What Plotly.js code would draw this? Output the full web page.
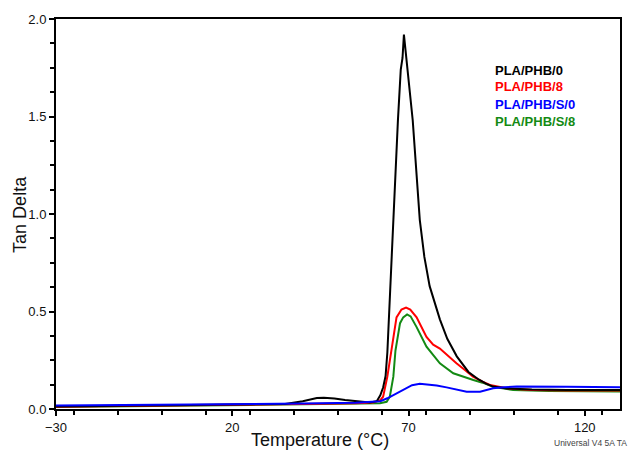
<!DOCTYPE html>
<html>
<head>
<meta charset="utf-8">
<script src="https://cdn.plot.ly/plotly-3.0.1.min.js"></script>
<style>html,body{margin:0;padding:0;background:#fff;}#chart{width:631px;height:455px;}</style>
</head>
<body>
<div id="chart"></div>
<script>
var seriesNames = ["PLA/PHB/0", "PLA/PHB/8", "PLA/PHB/S/0", "PLA/PHB/S/8"];
var seriesColors = ["#000000", "#ff0000", "#0000ff", "#138a13"];

var blackX = [-30,-10,10,25,35,40,44,46,49,52,56,59,61,62,62.8,63.5,64,65.6,67,67.8,68.3,68.7,69.1,69.8,71.2,73.2,74.5,76,78.9,81,83.7,87,90,92,94,98,105,115,130];
var blackY = [0.013,0.016,0.019,0.022,0.026,0.04,0.056,0.058,0.054,0.046,0.037,0.033,0.04,0.07,0.11,0.17,0.29,0.97,1.48,1.74,1.80,1.92,1.85,1.74,1.48,0.97,0.78,0.63,0.46,0.36,0.27,0.19,0.15,0.13,0.115,0.105,0.1,0.097,0.097];

var redX = [-30,-10,10,25,40,55,60,62,62.8,64,65.2,66.6,68,69.3,70.5,72.3,75.1,77,78.9,81,83.6,86,88.3,91,93.1,97.8,105,115,130];
var redY = [0.012,0.015,0.018,0.022,0.026,0.03,0.033,0.045,0.063,0.166,0.30,0.47,0.51,0.52,0.51,0.47,0.37,0.33,0.31,0.275,0.235,0.2,0.166,0.14,0.123,0.106,0.098,0.095,0.095];

var blueX = [-30,-10,10,25,40,55,60,62,64,65.7,67,69.5,71,73.2,75.1,78,80.8,84,86.5,90.3,92,94,97,100.7,115,130];
var blueY = [0.018,0.02,0.022,0.025,0.028,0.032,0.037,0.04,0.055,0.072,0.085,0.106,0.122,0.13,0.127,0.12,0.111,0.098,0.089,0.089,0.097,0.106,0.112,0.115,0.114,0.111];

var greenX = [-30,-10,10,25,40,55,61.9,63.8,64.7,65.7,66.3,67.6,68.5,69.6,70.6,72.3,75.1,78.9,82.7,88.4,91,94,99.7,110,130];
var greenY = [0.01,0.013,0.017,0.021,0.025,0.028,0.03,0.037,0.063,0.166,0.30,0.44,0.47,0.485,0.475,0.42,0.32,0.234,0.183,0.149,0.135,0.114,0.097,0.092,0.09];

var xTickStart = -30, xTickStep = 50, xMinorStep = 12.5;
var yTickStart = 0, yTickStep = 0.5, yMinorStep = 0.125;
var xRange = [-30, 130], yRange = [0, 2.0];

function tr(x, y, i) {
  return {x: x, y: y, type: "scatter", mode: "lines", name: seriesNames[i],
          line: {color: seriesColors[i], width: 2}, hoverinfo: "skip"};
}
var data = [tr(greenX, greenY, 3), tr(redX, redY, 1), tr(blackX, blackY, 0), tr(blueX, blueY, 2)];

var FONT = "Liberation Sans, Arial, sans-serif";
var legendY = [0.869, 0.826, 0.782, 0.738];
var annotations = seriesNames.map(function (n, i) {
  return {text: "<b>" + n + "</b>", xref: "paper", yref: "paper", x: 0.775, y: legendY[i],
          xanchor: "left", yanchor: "middle", showarrow: false,
          font: {family: FONT, size: 13, color: seriesColors[i]}};
});
annotations.push({text: "Universal V4 5A TA", xref: "paper", yref: "paper", x: 0.88, y: -0.088,
  xanchor: "left", yanchor: "middle", showarrow: false,
  font: {family: FONT, size: 8.5, color: "#444"}});
annotations.push({text: "Tan Delta", xref: "paper", yref: "paper", x: -0.064, y: 0.5,
  xanchor: "center", yanchor: "middle", textangle: -90, showarrow: false,
  font: {family: FONT, size: 18, color: "#111"}});
annotations.push({text: "Temperature (°C)", xref: "paper", yref: "paper", x: 0.468, y: -0.0795,
  xanchor: "center", yanchor: "middle", showarrow: false,
  font: {family: FONT, size: 18, color: "#111"}});

var layout = {
  width: 631, height: 455,
  margin: {l: 56, r: 11, t: 19, b: 46},
  paper_bgcolor: "#fff", plot_bgcolor: "#fff",
  showlegend: false,
  font: {family: FONT, color: "#111"},
  xaxis: {
    range: xRange, tickmode: "linear", tick0: xTickStart, dtick: xTickStep,
    ticks: "outside", ticklen: 5, tickwidth: 2, tickcolor: "#000",
    minor: {ticks: "outside", dtick: xMinorStep, ticklen: 4, tickwidth: 2, tickcolor: "#000"},
    showgrid: false, zeroline: false, showline: true, mirror: true, linecolor: "#000", linewidth: 2,
    tickfont: {size: 13, color: "#111"},
    automargin: false
  },
  yaxis: {
    range: yRange, tickmode: "linear", tick0: yTickStart, dtick: yTickStep, tickformat: ".1f",
    ticks: "outside", ticklen: 5, tickwidth: 2, tickcolor: "#000",
    minor: {ticks: "outside", dtick: yMinorStep, ticklen: 4, tickwidth: 2, tickcolor: "#000"},
    showgrid: false, zeroline: false, showline: true, mirror: true, linecolor: "#000", linewidth: 2,
    tickfont: {size: 13, color: "#111"},
    automargin: false
  },
  annotations: annotations
};

Plotly.newPlot("chart", data, layout, {displayModeBar: false, staticPlot: true});
</script>
</body>
</html>
